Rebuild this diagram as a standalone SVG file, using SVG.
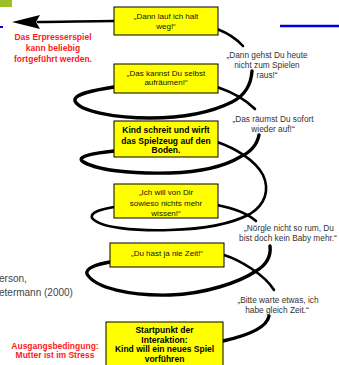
<svg xmlns="http://www.w3.org/2000/svg" width="339" height="365" viewBox="0 0 339 365">
<style>
.box{fill:#ffff00;stroke:#000;stroke-width:1}
.bt{font-family:"Liberation Sans",Arial,sans-serif;font-size:8px;fill:#111;text-anchor:middle}
.bb{font-family:"Liberation Sans",Arial,sans-serif;font-size:8.5px;font-weight:bold;fill:#000;text-anchor:middle}
.lab{font-family:"Liberation Sans",Arial,sans-serif;font-size:8.3px;fill:#333;text-anchor:middle}
.red{font-family:"Liberation Sans",Arial,sans-serif;font-size:8.5px;font-weight:bold;fill:#ff1a1a;text-anchor:middle}
.ref{font-family:"Liberation Sans",Arial,sans-serif;font-size:10px;fill:#444}
.sp{fill:none;stroke:#000;stroke-width:2.6;stroke-linecap:round}
.spt{fill:none;stroke:#000;stroke-width:3.4;stroke-linecap:round}
</style>
<rect x="0" y="0" width="12" height="7" fill="#9bbf26"/>
<line x1="280" y1="26" x2="339" y2="26" stroke="#0000dd" stroke-width="2.5"/>
<line x1="0" y1="27" x2="3" y2="27" stroke="#0000dd" stroke-width="2"/>

<g id="connectors">
<path class="sp" d="M38,22 C60,22 90,21 114,21"/>
<polygon points="12,22 40,15 36,22 40,29" fill="#000"/>
<path class="sp" d="M217,29 Q233,35 243,46"/>
<path class="spt" d="M252,71 C251,86 244,96 232,102 C210,113 180,118 150,118 C118,118 80,112 75,101 C73,94 95,90 114,87"/>
<path class="sp" d="M217,87 C232,92 246,100 255,109"/>
<path class="spt" d="M259,135 C257,145 251,152 240,157 C225,166 200,172 170,173 C130,174 95,170 82,161 C77,156 95,153 114,151"/>
<path class="sp" d="M217,142 C235,148 255,160 263,175 C270,190 265,205 250,214 C235,222 210,229 170,230 C135,231 100,228 92,218 C90,212 102,209 114,207"/>
<path class="sp" d="M217,205 C232,208 247,213 256,221"/>
<path class="spt" d="M270,246 C271,255 268,264 256,271 C240,282 205,294 170,295 C130,296 95,288 87,274 C85,268 98,264 110,262"/>
<path class="sp" d="M224,255 C240,260 265,275 274,290"/>
<path class="spt" d="M269,316 C267,327 250,335 223,341"/>
</g>

<g id="n1">
<rect class="box" x="114" y="7" width="104" height="28"/>
<text class="bt" x="166" y="19">„Dann lauf ich halt</text>
<text class="bt" x="166" y="29">weg!“</text>
</g>
<g id="n2">
<rect class="box" x="114" y="64" width="104" height="29"/>
<text class="bt" x="166" y="76">„Das kannst Du selbst</text>
<text class="bt" x="166" y="85">aufräumen!“</text>
</g>
<g id="n3">
<rect class="box" x="114" y="121" width="104" height="36"/>
<text class="bb" x="166" y="133">Kind schreit und wirft</text>
<text class="bb" x="166" y="143.5">das Spielzeug auf den</text>
<text class="bb" x="166" y="153">Boden.</text>
</g>
<g id="n4">
<rect class="box" x="114" y="184" width="104" height="34"/>
<text class="bt" x="166" y="194.5">„Ich will von Dir</text>
<text class="bt" x="166" y="205.5">sowieso nichts mehr</text>
<text class="bt" x="166" y="216">wissen!“</text>
</g>
<g id="n5">
<rect class="box" x="110" y="243" width="114" height="24"/>
<text class="bt" x="167" y="255.5">„Du hast ja nie Zeit!“</text>
</g>
<g id="n6">
<rect class="box" x="106" y="322" width="117" height="48"/>
<text class="bb" x="164.5" y="333">Startpunkt der</text>
<text class="bb" x="164.5" y="342.5">Interaktion:</text>
<text class="bb" x="164.5" y="352">Kind will ein neues Spiel</text>
<text class="bb" x="164.5" y="361.5">vorführen</text>
</g>

<g id="l1">
<text class="lab" x="267" y="57.5">„Dann gehst Du heute</text>
<text class="lab" x="267" y="67.5">nicht zum Spielen</text>
<text class="lab" x="267" y="77.5">raus!“</text>
</g>
<g id="l2">
<text class="lab" x="273" y="122">„Das räumst Du sofort</text>
<text class="lab" x="273" y="132">wieder auf!“</text>
</g>
<g id="l3">
<text class="lab" x="289" y="231">„Nörgle nicht so rum, Du</text>
<text class="lab" x="288" y="241">bist doch kein Baby mehr.“</text>
</g>
<g id="l4">
<text class="lab" x="278" y="303">„Bitte warte etwas, ich</text>
<text class="lab" x="277" y="313">habe gleich Zeit.“</text>
</g>

<g id="red1">
<text class="red" x="53" y="40">Das Erpresserspiel</text>
<text class="red" x="53" y="51">kann beliebig</text>
<text class="red" x="53" y="62">fortgeführt werden.</text>
</g>
<g id="red2">
<text class="red" x="55" y="348.5">Ausgangsbedingung:</text>
<text class="red" x="55" y="358">Mutter ist im Stress</text>
</g>
<g id="ref">
<text class="ref" x="-1" y="282">erson,</text>
<text class="ref" x="-1" y="296">etermann (2000)</text>
</g>
</svg>
